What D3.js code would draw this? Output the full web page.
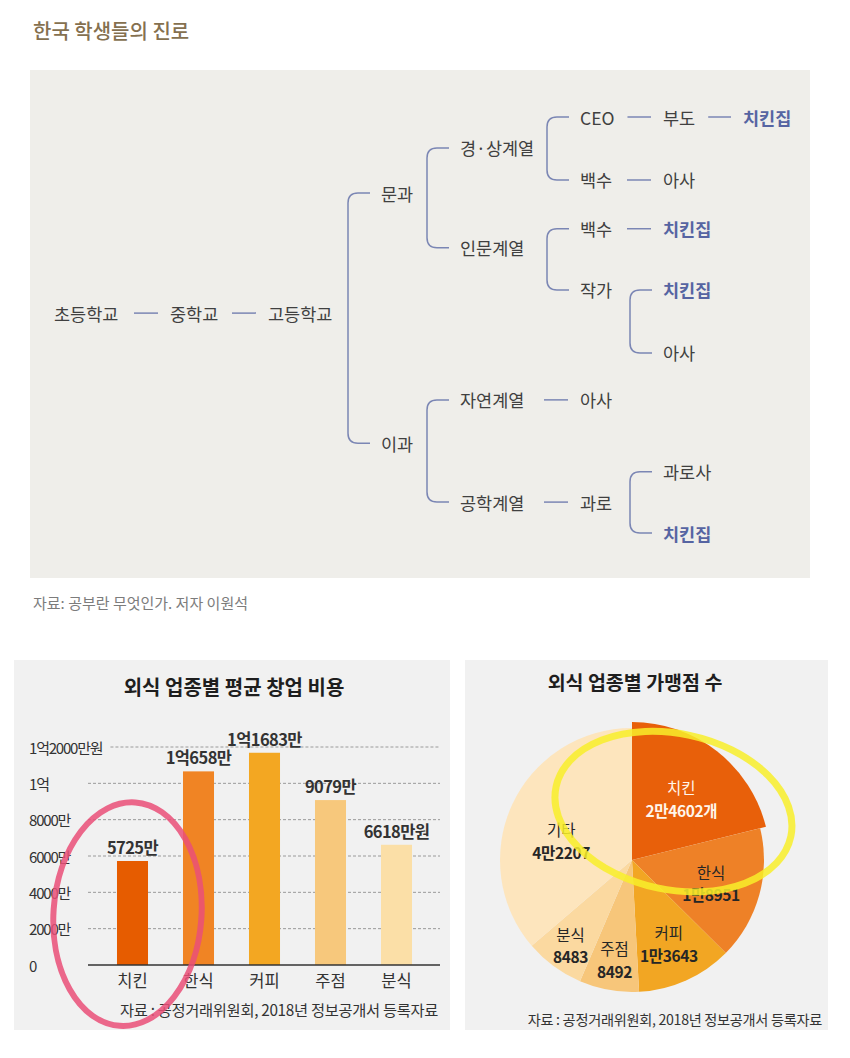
<!DOCTYPE html>
<html><head><meta charset="utf-8">
<script src="https://cdn.jsdelivr.net/npm/d3@7"></script>
<style>
body{margin:0;background:#fff;}
svg{display:block;font-family:"Noto Sans CJK KR","Noto Sans",sans-serif;}
</style></head>
<body><svg id="c" width="850" height="1058"></svg>
<script>
// ---------- DATA ----------
const treeTitle = "한국 학생들의 진로";
const treeSource = "자료: 공부란 무엇인가. 저자 이원석";
// career tree: name, row (vertical slot), hi (highlight)
const careerTree = {name:"초등학교", row:3.3, children:[{name:"중학교", row:3.3, children:[{name:"고등학교", row:3.3, children:[
  {name:"문과", row:1.28, children:[
    {name:"경·상계열", row:0.52, children:[
      {name:"CEO", row:0, children:[{name:"부도", row:0, children:[{name:"치킨집", row:0, hi:true}]}]},
      {name:"백수", row:1.06, children:[{name:"아사", row:1.06}]}
    ]},
    {name:"인문계열", row:2.2, children:[
      {name:"백수", row:1.88, children:[{name:"치킨집", row:1.88, hi:true}]},
      {name:"작가", row:2.91, children:[{name:"치킨집", row:2.91, hi:true},{name:"아사", row:3.97}]}
    ]}
  ]},
  {name:"이과", row:5.49, children:[
    {name:"자연계열", row:4.76, children:[{name:"아사", row:4.76}]},
    {name:"공학계열", row:6.48, children:[{name:"과로", row:6.48, children:[{name:"과로사", row:5.97},{name:"치킨집", row:7, hi:true}]}]}
  ]}
]}]}]};

const barTitle = "외식 업종별 평균 창업 비용";
const barCategories = ["치킨","한식","커피","주점","분식"];
const barValues = [5725, 10658, 11683, 9079, 6618]; // 만원
const barLabels = ["5725만","1억658만","1억1683만","9079만","6618만원"];
const barTicks = [0, 2000, 4000, 6000, 8000, 10000, 12000];
const barTickLabels = ["0","2000만","4000만","6000만","8000만","1억","1억2000만원"];
const source2 = "자료 : 공정거래위원회, 2018년 정보공개서 등록자료";

const pieTitle = "외식 업종별 가맹점 수";
const pieCategories = ["치킨","한식","커피","주점","분식","기타"];
const pieValues = [24602, 18951, 13643, 8492, 8483, 42207];
const pieLabels = ["2만4602개","1만8951","1만3643","8492","8483","4만2207"];

// ---------- STYLE / LAYOUT ----------
const barColors = ["#e65c00","#f08424","#f3a722","#f7c87c","#fbdfa7"];
const pieColors = ["#e8600a","#ee8127","#f2a623","#f7c67a","#fbd9a0","#fde5bd"];
const pieLabelRadius = [80, 82, 90, 100, 104, 78];
const pieLabelShift = [0, 0, 0, 0, 0, 12];
const treeColumns = [54, 170, 268, 381, 460, 580, 663, 743];
const lineColor = "#7b86b4";

const svg = d3.select("#c");

// ---------- TOP: career tree ----------
svg.append("text").attr("x",33).attr("y",39).attr("font-size",20).attr("font-weight",500)
  .attr("fill","#85704f").text(treeTitle);
svg.append("rect").attr("x",30).attr("y",70).attr("width",780).attr("height",508).attr("fill","#efeeea");
svg.append("text").attr("x",33).attr("y",609).attr("font-size",15).attr("fill","#7c7c7c").text(treeSource);

const rowY = d3.scaleLinear().domain([0,7]).range([117,533]);
const root = d3.hierarchy(careerTree);
const tg = svg.append("g");
const textEnd = new Map();
root.each(n=>{
  const t = tg.append("text").attr("x",treeColumns[n.depth]).attr("y",rowY(n.data.row))
    .attr("dominant-baseline","central").attr("font-size",17.5)
    .attr("fill", n.data.hi ? "#5664a2" : "#404040")
    .attr("font-weight", n.data.hi ? 700 : 400).text(n.data.name);
  textEnd.set(n, treeColumns[n.depth] + t.node().getComputedTextLength());
});
root.each(n=>{
  if(!n.children) return;
  if(n.children.length===1){
    const c = n.children[0];
    const x2 = treeColumns[c.depth]-12;
    tg.append("line").attr("x1",Math.max(textEnd.get(n)+13, x2-24)).attr("x2",x2)
      .attr("y1",rowY(n.data.row)).attr("y2",rowY(n.data.row))
      .attr("stroke",lineColor).attr("stroke-width",1.5);
  } else {
    const cx = treeColumns[n.depth+1];
    const bx = cx-33, ex = cx-11, r = 10;
    const y1 = rowY(n.children[0].data.row), y2 = rowY(n.children[n.children.length-1].data.row);
    const p = d3.path();
    p.moveTo(ex,y1); p.lineTo(bx+r,y1); p.quadraticCurveTo(bx,y1,bx,y1+r);
    p.lineTo(bx,y2-r); p.quadraticCurveTo(bx,y2,bx+r,y2); p.lineTo(ex,y2);
    tg.append("path").attr("d",p.toString()).attr("fill","none").attr("stroke",lineColor).attr("stroke-width",1.5);
  }
});

// ---------- BOTTOM LEFT: bar chart ----------
svg.append("rect").attr("x",14).attr("y",660).attr("width",436).attr("height",370).attr("fill","#f1f1f1");
svg.append("text").attr("x",234).attr("y",695).attr("text-anchor","middle").attr("font-size",20)
  .attr("font-weight",700).attr("fill","#1e1e1e").text(barTitle);

const x = d3.scaleBand().domain(barCategories).range([99.5,429.5]).paddingInner(0.53).paddingOuter(0.265);
const y = d3.scaleLinear().domain([0,12000]).range([965,747]);

const gy = svg.append("g");
barTicks.forEach((t,i)=>{
  const lab = gy.append("text").attr("x",29).attr("y",y(t)).attr("dominant-baseline","central")
    .attr("font-size",15).attr("letter-spacing","-1.2").attr("fill","#333").text(barTickLabels[i]);
  if(t>0){
    const endX = 29 + lab.node().getComputedTextLength();
    gy.append("line").attr("x1",Math.max(88,endX+8)).attr("x2",440).attr("y1",y(t)).attr("y2",y(t))
      .attr("stroke","#9a9a9a").attr("stroke-dasharray","3,2").attr("stroke-width",1);
  }
});
svg.append("g").selectAll("rect").data(barValues).join("rect")
  .attr("x",(d,i)=>x(barCategories[i])).attr("width",x.bandwidth())
  .attr("y",d=>y(d)).attr("height",d=>y(0)-y(d)).attr("fill",(d,i)=>barColors[i]);
svg.append("line").attr("x1",88).attr("x2",440).attr("y1",y(0)).attr("y2",y(0)).attr("stroke","#333").attr("stroke-width",1.5);
svg.append("g").selectAll("text").data(barValues).join("text")
  .attr("x",(d,i)=>x(barCategories[i])+x.bandwidth()/2).attr("y",d=>y(d)-7)
  .attr("text-anchor","middle").attr("font-size",16.5).attr("font-weight",700).attr("letter-spacing","-0.6")
  .attr("fill","#333").text((d,i)=>barLabels[i]);
svg.append("g").selectAll("text").data(barCategories).join("text")
  .attr("x",d=>x(d)+x.bandwidth()/2).attr("y",987).attr("text-anchor","middle")
  .attr("font-size",16.5).attr("fill","#333").text(d=>d);
svg.append("text").attr("x",438).attr("y",1016).attr("text-anchor","end").attr("font-size",15.3)
  .attr("fill","#333").attr("letter-spacing","-0.3").text(source2);

// ---------- BOTTOM RIGHT: pie ----------
svg.append("rect").attr("x",465).attr("y",660).attr("width",363).attr("height",370).attr("fill","#f1f1f1");
svg.append("text").attr("x",635).attr("y",690).attr("text-anchor","middle").attr("font-size",19.5)
  .attr("font-weight",700).attr("fill","#1e1e1e").text(pieTitle);
const cx = 632, cy = 860, R = 132;
const pie = d3.pie().sort(null).value(d=>d)(pieValues);
const arc = d3.arc().innerRadius(0);
const pg = svg.append("g").attr("transform",`translate(${cx},${cy})`);
pg.selectAll("path").data(pie).join("path")
  .attr("d",(d,i)=>arc.outerRadius(i===0?138:R)(d)).attr("fill",(d,i)=>pieColors[i]);
pie.forEach((d,i)=>{
  const a = (d.startAngle+d.endAngle)/2, r = pieLabelRadius[i];
  const px = Math.sin(a)*r, py = -Math.cos(a)*r + pieLabelShift[i];
  const col = i===0 ? "#fff5ea" : "#262626";
  pg.append("text").attr("x",px).attr("y",py-3).attr("text-anchor","middle").attr("font-size",15.5)
    .attr("fill",col).text(pieCategories[i]);
  pg.append("text").attr("x",px).attr("y",py+19.5).attr("text-anchor","middle").attr("font-size",15.5)
    .attr("font-weight",700).attr("letter-spacing","-0.4").attr("fill",col).text(pieLabels[i]);
});
svg.append("text").attr("x",822).attr("y",1025).attr("text-anchor","end").attr("font-size",14.2)
  .attr("fill","#333").attr("letter-spacing","-0.3").text(source2);

// ---------- hand-drawn highlight annotations ----------
const chickenX = x("치킨")+x.bandwidth()/2;
svg.append("ellipse").attr("cx",chickenX-5).attr("cy",y(2800)).attr("rx",74).attr("ry",112)
  .attr("transform",`rotate(4 ${chickenX-5} ${y(2800)})`)
  .attr("fill","none").attr("stroke","#ea4f78").attr("stroke-opacity",0.85).attr("stroke-width",6);
const c0 = pie[0], ma = (c0.startAngle+c0.endAngle)/2;
const ex = cx+Math.sin(ma)*64, ey = cy-Math.cos(ma)*64;
svg.append("ellipse").attr("cx",ex+2).attr("cy",ey+2).attr("rx",120).attr("ry",78)
  .attr("transform",`rotate(12 ${ex+2} ${ey+2})`)
  .attr("fill","none").attr("stroke","#f8ee2a").attr("stroke-opacity",0.85).attr("stroke-width",7);
</script></body></html>
